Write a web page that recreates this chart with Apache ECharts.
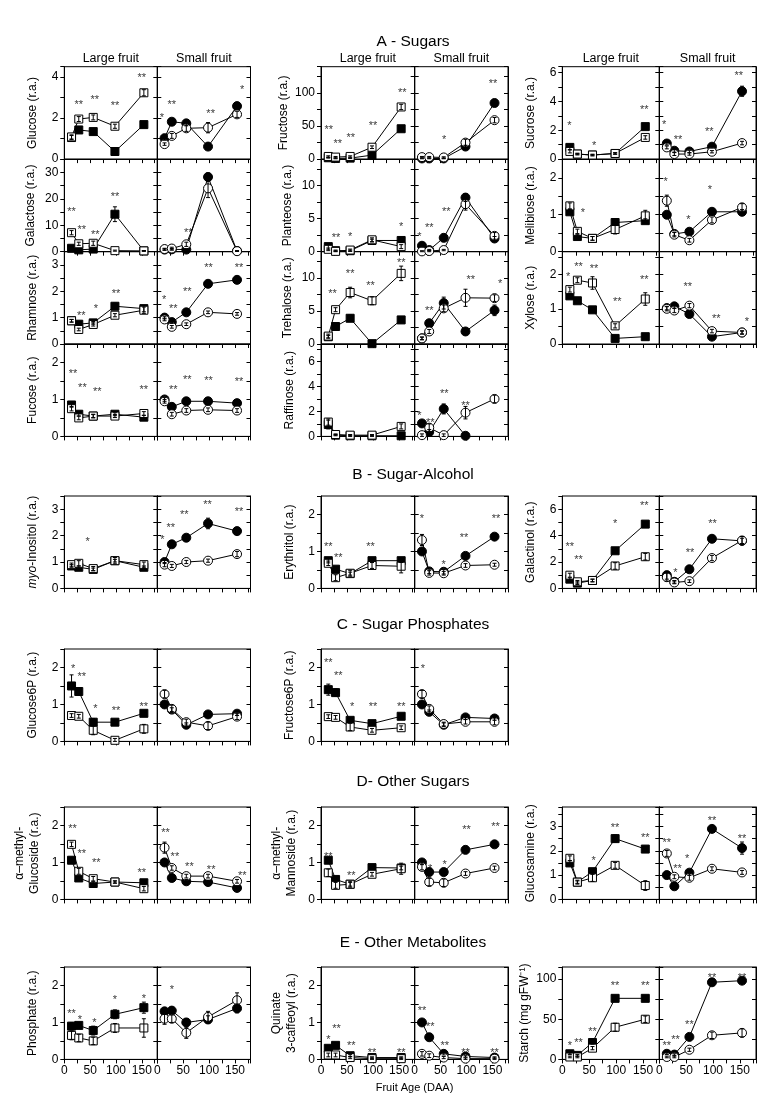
<!DOCTYPE html>
<html><head><meta charset="utf-8">
<script src="https://cdn.jsdelivr.net/npm/echarts/dist/echarts.min.js"></script>
<style>html,body{margin:0;padding:0;background:#fff}#c{width:769px;height:1100px}</style>
</head><body><div id="c"></div>
<script>
// ---------- DATA ----------
const DAA = [14, 28, 56, 98, 154];
const X_TICK_LABELS = [0, 50, 100, 150];
const FRUIT = ['Large fruit', 'Small fruit'];
const SECTIONS = ['A - Sugars', 'B - Sugar-Alcohol', 'C - Sugar Phosphates', 'D- Other Sugars', 'E - Other Metabolites'];
const X_TITLE = 'Fruit Age (DAA)';

// each: [filled series, open series]
const glucoseL = [[1.05, 1.42, 1.34, 0.37, 1.68], [1.08, 1.95, 2.03, 1.6, 3.23]];
const glucoseS = [[1.02, 1.82, 1.74, 0.61, 2.58], [0.73, 1.13, 1.5, 1.53, 2.18]];
const glucoseLErr = [[0.1, 0.1, 0.1, 0.06, 0.1], [0.1, 0.12, 0.12, 0.1, 0.15]];
const glucoseSErr = [[0.1, 0.12, 0.12, 0.1, 0.15], [0.06, 0.12, 0.15, 0.25, 0.15]];
const glucoseLStars = [[28, 2.78, '**'], [59, 3.02, '**'], [98, 2.73, '**'], [150, 4.11, '**']];
const glucoseSStars = [[9, 2.16, '*'], [28, 2.78, '**'], [103, 2.32, '**'], [164, 3.5, '*']];

const galactoseL = [[1.3, 0.7, 1.0, 14.2, 0.3], [7.2, 3.0, 3.2, 0.4, 0.3]];
const galactoseS = [[0.8, 0.9, 0.8, 28.3, 0.3], [1.0, 1.2, 2.8, 24.0, 0.2]];
const galactoseLErr = [[0.5, 0.3, 0.3, 2.8, 0.1], [0.8, 0.6, 0.8, 0.2, 0.1]];
const galactoseSErr = [[0.3, 0.3, 0.3, 1.5, 0.1], [0.3, 0.5, 0.8, 3.5, 0.1]];
const galactoseLStars = [[14, 16, '**'], [34, 9.3, '**'], [60, 7.4, '**'], [98, 21.9, '**']];
const galactoseSStars = [[60, 8.3, '**']];

const rhamnoseL = [[0.88, 0.75, 0.8, 1.43, 1.34], [0.88, 0.55, 0.74, 1.09, 1.28]];
const rhamnoseS = [[1.0, 0.83, 1.2, 2.28, 2.43], [0.93, 0.65, 0.75, 1.2, 1.14]];
const rhamnoseLErr = [[0.05, 0.05, 0.05, 0.12, 0.12], [0.05, 0.05, 0.06, 0.06, 0.12]];
const rhamnoseSErr = [[0.05, 0.05, 0.08, 0.1, 0.08], [0.05, 0.05, 0.05, 0.05, 0.05]];
const rhamnoseLStars = [[33, 1.18, '**'], [61, 1.43, '*'], [100, 2.02, '**']];
const rhamnoseSStars = [[13, 1.8, '*'], [31, 1.45, '**'], [58, 2.1, '**'], [99, 3.0, '**'], [158, 3.0, '**']];

const fucoseL = [[0.85, 0.6, 0.55, 0.6, 0.52], [0.75, 0.5, 0.55, 0.55, 0.62]];
const fucoseS = [[1.0, 0.8, 0.95, 0.95, 0.9], [0.95, 0.6, 0.7, 0.72, 0.7]];
const fucoseLErr = [[0.06, 0.05, 0.04, 0.04, 0.05], [0.06, 0.05, 0.05, 0.04, 0.05]];
const fucoseSErr = [[0.05, 0.05, 0.05, 0.05, 0.05], [0.05, 0.05, 0.05, 0.05, 0.05]];
const fucoseLStars = [[17, 1.76, '**'], [35, 1.4, '**'], [64, 1.29, '**'], [154, 1.33, '**']];
const fucoseSStars = [[31, 1.35, '**'], [58, 1.62, '**'], [99, 1.58, '**'], [158, 1.55, '**']];

const fructoseL = [[2, 1, 1.5, 6, 46], [4, 3, 4, 18, 79]];
const fructoseS = [[1, 1, 1, 19, 85], [3, 3, 2.5, 25, 59]];
const fructoseLErr = [[0.5, 0.5, 0.5, 1, 3], [1, 1, 1, 2, 4]];
const fructoseSErr = [[0.5, 0.5, 0.5, 2, 4], [1, 1, 1, 5, 4]];
const fructoseLStars = [[15, 49, '**'], [32, 27, '**'], [57, 36, '**'], [100, 54, '**'], [156, 104, '**']];
const fructoseSStars = [[57, 33, '*'], [151, 118, '**']];

const planteoseL = [[0.77, 0.15, 0.15, 1.7, 1.7], [0.36, 0.05, 0.25, 1.8, 0.77]];
const planteoseS = [[0.9, 0.25, 2.1, 8.2, 2.0], [0.05, 0.1, 0.25, 7.2, 2.4]];
const planteoseLErr = [[0.4, 0.1, 0.1, 0.2, 0.3], [0.2, 0.1, 0.15, 0.3, 0.3]];
const planteoseSErr = [[0.2, 0.1, 0.2, 0.6, 0.3], [0.1, 0.1, 0.1, 0.9, 0.5]];
const planteoseLStars = [[29, 2.55, '**'], [56, 2.65, '*'], [154, 4.2, '*']];
const planteoseSStars = [[9, 2.65, '*'], [28, 4.0, '**'], [61, 6.4, '**']];

const trehaloseL = [[1.1, 2.65, 3.9, 0.05, 3.65], [1.2, 5.2, 7.8, 6.55, 10.7]];
const trehaloseS = [[0.85, 3.15, 6.2, 1.9, 5.1], [0.85, 1.9, 5.4, 7.0, 6.95]];
const trehaloseLErr = [[0.2, 0.3, 0.5, 0.1, 0.3], [0.3, 0.3, 0.8, 0.6, 1.1]];
const trehaloseSErr = [[0.2, 0.3, 0.9, 0.2, 0.8], [0.2, 0.3, 0.5, 1.3, 0.5]];
const trehaloseLStars = [[22, 8.1, '**'], [56, 11, '**'], [95, 9.2, '**'], [154, 12.8, '**']];
const trehaloseSStars = [[28, 5.4, '**'], [108, 10.2, '**'], [165, 9.6, '*']];

const raffinoseL = [[0.95, 0.1, 0.05, 0.05, 0.05], [1.15, 0.15, 0.1, 0.1, 0.8]];
const raffinoseS = [[1.04, 0.35, 2.2, 0.05, null], [0.1, 0.7, 0.1, 1.9, 3.0]];
const raffinoseLErr = [[0.35, 0.05, 0.05, 0.05, 0.05], [0.25, 0.05, 0.05, 0.05, 0.2]];
const raffinoseSErr = [[0.15, 0.2, 0.4, 0.05, 0], [0.1, 0.3, 0.1, 0.5, 0.3]];
const raffinoseLStars = [];
const raffinoseSStars = [[9, 1.9, '*'], [30, 1.3, '**'], [57, 3.6, '**'], [98, 2.7, '**']];

const sucroseL = [[0.81, 0.35, 0.28, 0.39, 2.25], [0.53, 0.35, 0.28, 0.39, 1.5]];
const sucroseS = [[1.08, 0.58, 0.53, 0.86, 4.7], [0.81, 0.35, 0.35, 0.51, 1.11]];
const sucroseLErr = [[0.15, 0.05, 0.05, 0.05, 0.15], [0.1, 0.05, 0.05, 0.05, 0.12]];
const sucroseSErr = [[0.1, 0.1, 0.08, 0.1, 0.35], [0.1, 0.1, 0.08, 0.08, 0.12]];
const sucroseLStars = [[13, 2.5, '*'], [59, 1.09, '*'], [152, 3.6, '**']];
const sucroseSStars = [[9, 2.6, '*'], [35, 1.55, '**'], [93, 2.08, '**'], [148, 5.95, '**']];

const melibioseL = [[1.08, 0.41, 0.36, 0.79, 0.84], [1.24, 0.55, 0.36, 0.6, 0.97]];
const melibioseS = [[1.0, 0.48, 0.54, 1.08, 1.08], [1.38, 0.46, 0.31, 0.86, 1.2]];
const melibioseLErr = [[0.06, 0.05, 0.05, 0.05, 0.05], [0.08, 0.06, 0.05, 0.12, 0.15]];
const melibioseSErr = [[0.06, 0.05, 0.06, 0.08, 0.06], [0.15, 0.06, 0.05, 0.08, 0.1]];
const melibioseLStars = [[38, 1.13, '*']];
const melibioseSStars = [[12, 1.96, '*'], [54, 0.95, '*'], [94, 1.74, '*']];

const xyloseL = [[1.38, 1.24, 0.98, 0.16, 0.21], [1.56, 1.83, 1.75, 0.52, 1.29]];
const xyloseS = [[1.03, 1.08, 0.86, 0.21, 0.33], [1.01, 0.96, 1.1, 0.37, 0.33]];
const xyloseLErr = [[0.06, 0.05, 0.05, 0.05, 0.05], [0.07, 0.07, 0.18, 0.06, 0.18]];
const xyloseSErr = [[0.05, 0.05, 0.05, 0.05, 0.05], [0.06, 0.06, 0.06, 0.05, 0.04]];
const xyloseLStars = [[11, 2.0, '*'], [30, 2.3, '**'], [59, 2.23, '**'], [102, 1.3, '**'], [152, 1.91, '**']];
const xyloseSStars = [[53, 1.72, '**'], [106, 0.81, '**'], [163, 0.71, '*']];

const myoInositolL = [[0.85, 0.8, 0.72, 1.05, 0.8], [0.9, 0.95, 0.75, 1.05, 0.9]];
const myoInositolS = [[1.0, 1.67, 1.92, 2.46, 2.17], [0.9, 0.85, 1.0, 1.05, 1.3]];
const myoInositolLErr = [[0.05, 0.05, 0.05, 0.05, 0.05], [0.06, 0.1, 0.08, 0.12, 0.1]];
const myoInositolSErr = [[0.06, 0.08, 0.1, 0.2, 0.1], [0.08, 0.06, 0.06, 0.06, 0.1]];
const myoInositolLStars = [[45, 1.86, '*']];
const myoInositolSStars = [[10, 1.96, '*'], [26, 2.42, '**'], [52, 2.9, '**'], [97, 3.26, '**'], [158, 3.0, '**']];

const erythritolL = [[0.75, 0.52, 0.4, 0.75, 0.75], [0.68, 0.29, 0.41, 0.62, 0.6]];
const erythritolS = [[1.0, 0.46, 0.45, 0.88, 1.4], [1.31, 0.42, 0.41, 0.62, 0.64]];
const erythritolLErr = [[0.06, 0.05, 0.04, 0.05, 0.05], [0.06, 0.08, 0.08, 0.08, 0.18]];
const erythritolSErr = [[0.06, 0.06, 0.06, 0.06, 0.06], [0.15, 0.06, 0.05, 0.05, 0.04]];
const erythritolLStars = [[14, 1.2, '**'], [33, 0.9, '**'], [95, 1.2, '**']];
const erythritolSStars = [[14, 1.95, '*'], [56, 0.72, '*'], [95, 1.44, '**'], [157, 1.95, '**']];

const galactinolL = [[0.7, 0.4, 0.6, 2.85, 4.87], [1.0, 0.5, 0.6, 1.7, 2.4]];
const galactinolS = [[1.0, 0.5, 1.45, 3.76, 3.6], [0.85, 0.45, 0.55, 2.3, 3.63]];
const galactinolLErr = [[0.1, 0.1, 0.1, 0.2, 0.2], [0.15, 0.1, 0.1, 0.25, 0.25]];
const galactinolSErr = [[0.3, 0.1, 0.1, 0.15, 0.2], [0.3, 0.1, 0.1, 0.2, 0.3]];
const galactinolLStars = [[14, 3.36, '**'], [30, 2.4, '**'], [98, 5.08, '*'], [152, 6.5, '**']];
const galactinolSStars = [[30, 1.4, '*'], [57, 2.9, '**'], [99, 5.1, '**']];

const glucose6PL = [[1.5, 1.35, 0.52, 0.52, 0.76], [0.7, 0.68, 0.3, 0.03, 0.34]];
const glucose6PS = [[1.0, 0.86, 0.45, 0.73, 0.75], [1.28, 0.88, 0.52, 0.42, 0.67]];
const glucose6PLErr = [[0.3, 0.1, 0.1, 0.05, 0.05], [0.05, 0.05, 0.12, 0.05, 0.12]];
const glucose6PSErr = [[0.05, 0.05, 0.05, 0.05, 0.05], [0.1, 0.1, 0.08, 0.1, 0.08]];
const glucose6PLStars = [[17, 2.03, '*'], [34, 1.83, '**'], [60, 0.95, '*'], [100, 0.91, '**'], [154, 1.0, '**']];
const glucose6PSStars = [];

const fructose6PL = [[1.4, 1.32, 0.57, 0.48, 0.68], [0.67, 0.65, 0.39, 0.3, 0.37]];
const fructose6PS = [[1.0, 0.8, 0.45, 0.65, 0.62], [1.28, 0.88, 0.47, 0.53, 0.53]];
const fructose6PLErr = [[0.15, 0.1, 0.05, 0.05, 0.05], [0.05, 0.05, 0.1, 0.05, 0.05]];
const fructose6PSErr = [[0.05, 0.05, 0.05, 0.05, 0.05], [0.1, 0.08, 0.05, 0.06, 0.08]];
const fructose6PLStars = [[14, 2.19, '**'], [33, 1.84, '**'], [60, 1.0, '*'], [100, 1.0, '**'], [154, 1.0, '**']];
const fructose6PSStars = [[16, 2.03, '*']];

const mGlucosideL = [[1.06, 0.58, 0.43, 0.47, 0.45], [1.49, 0.76, 0.56, 0.47, 0.29]];
const mGlucosideS = [[1.0, 0.58, 0.49, 0.47, 0.31], [1.4, 0.85, 0.63, 0.63, 0.49]];
const mGlucosideLErr = [[0.08, 0.05, 0.05, 0.03, 0.05], [0.06, 0.08, 0.06, 0.03, 0.06]];
const mGlucosideSErr = [[0.06, 0.06, 0.05, 0.05, 0.05], [0.15, 0.06, 0.05, 0.05, 0.05]];
const mGlucosideLStars = [[16, 1.98, '**'], [34, 1.3, '**'], [62, 1.08, '**'], [150, 0.79, '**']];
const mGlucosideSStars = [[16, 1.89, '**'], [34, 1.24, '**'], [62, 0.95, '**'], [104, 0.88, '**'], [164, 0.72, '**']];

const mMannosideL = [[1.06, 0.54, 0.41, 0.86, 0.85], [0.72, 0.38, 0.41, 0.68, 0.83]];
const mMannosideS = [[1.0, 0.74, 0.74, 1.34, 1.49], [0.88, 0.47, 0.45, 0.7, 0.85]];
const mMannosideLErr = [[0.08, 0.05, 0.05, 0.05, 0.05], [0.1, 0.08, 0.08, 0.05, 0.15]];
const mMannosideSErr = [[0.06, 0.06, 0.06, 0.05, 0.05], [0.08, 0.1, 0.1, 0.05, 0.05]];
const mMannosideLStars = [[14, 1.22, '**'], [58, 0.72, '**']];
const mMannosideSStars = [[30, 0.9, '*'], [58, 1.0, '*'], [100, 1.95, '**'], [156, 2.05, '**']];

const glucosamineL = [[1.5, 0.71, 1.14, 2.5, 2.07], [1.69, 0.71, 0.89, 1.4, 0.57]];
const glucosamineS = [[1.0, 0.54, 1.1, 2.9, 2.11], [1.89, 0.93, 0.89, 1.26, 1.11]];
const glucosamineLErr = [[0.1, 0.05, 0.1, 0.15, 0.1], [0.1, 0.08, 0.15, 0.12, 0.2]];
const glucosamineSErr = [[0.05, 0.05, 0.1, 0.1, 0.25], [0.12, 0.08, 0.1, 0.08, 0.08]];
const glucosamineLStars = [[58, 1.71, '*'], [98, 3.07, '**'], [154, 2.65, '**']];
const glucosamineSStars = [[14, 2.43, '**'], [34, 1.36, '**'], [52, 1.79, '*'], [98, 3.36, '**'], [154, 2.6, '**']];

const phosphateL = [[0.9, 0.92, 0.78, 1.22, 1.4], [0.65, 0.58, 0.5, 0.85, 0.85]];
const phosphateS = [[1.3, 1.32, 1.0, 1.08, 1.38], [1.1, 1.1, 0.72, 1.15, 1.6]];
const phosphateLErr = [[0.1, 0.08, 0.12, 0.12, 0.15], [0.12, 0.1, 0.1, 0.12, 0.25]];
const phosphateSErr = [[0.08, 0.08, 0.1, 0.1, 0.12], [0.15, 0.1, 0.15, 0.15, 0.2]];
const phosphateLStars = [[14, 1.3, '**'], [30, 1.15, '*'], [58, 1.08, '*'], [98, 1.68, '*'], [154, 1.72, '*']];
const phosphateSStars = [[28, 1.95, '*']];

const quinateL = [[0.3, 0.38, 0.1, 0.05, 0.05], [0.12, 0.12, 0.05, 0.02, 0.02]];
const quinateS = [[1.0, 0.6, 0.15, 0.08, 0.05], [0.15, 0.1, 0.05, 0.02, 0.02]];
const quinateLErr = [[0.05, 0.05, 0.03, 0.02, 0.02], [0.05, 0.05, 0.03, 0.02, 0.02]];
const quinateSErr = [[0.05, 0.05, 0.03, 0.02, 0.02], [0.06, 0.05, 0.03, 0.02, 0.02]];
const quinateLStars = [[14, 0.6, '*'], [30, 0.9, '**'], [58, 0.45, '**'], [98, 0.25, '**'], [154, 0.25, '**']];
const quinateSStars = [[14, 1.4, '**'], [30, 0.95, '**'], [58, 0.45, '**'], [98, 0.25, '**'], [154, 0.25, '**']];

const starchL = [[7, 5, 21, 76, 76], [3, 3, 14, 40, 50]];
const starchS = [[7, 6, 28, 96, 98], [3, 3, 12, 30, 33]];
const starchLErr = [[1, 1, 2, 3, 3], [1, 1, 2, 5, 4]];
const starchSErr = [[1, 1, 2, 4, 3], [1, 1, 2, 4, 5]];
const starchLStars = [[14, 20, '*'], [30, 24, '**'], [56, 38, '**'], [98, 95, '**'], [154, 95, '**']];
const starchSStars = [[14, 20, '**'], [30, 28, '**'], [56, 46, '**'], [98, 105, '**'], [154, 105, '**']];

// ---------- PANEL CONFIG ----------
const panels = [
  {name: 'Glucose (r.a.)', col: 0, row: 'A0', max: 4.5, major: 2, minor: 1, L: glucoseL, S: glucoseS, LE: glucoseLErr, SE: glucoseSErr, LS: glucoseLStars, SS: glucoseSStars},
  {name: 'Galactose (r.a.)', col: 0, row: 'A1', max: 35, major: 10, minor: 5, L: galactoseL, S: galactoseS, LE: galactoseLErr, SE: galactoseSErr, LS: galactoseLStars, SS: galactoseSStars},
  {name: 'Rhamnose (r.a.)', col: 0, row: 'A2', max: 3.5, major: 1, minor: 0.5, L: rhamnoseL, S: rhamnoseS, LE: rhamnoseLErr, SE: rhamnoseSErr, LS: rhamnoseLStars, SS: rhamnoseSStars},
  {name: 'Fucose (r.a.)', col: 0, row: 'A3', max: 2.5, major: 1, minor: 0.5, L: fucoseL, S: fucoseS, LE: fucoseLErr, SE: fucoseSErr, LS: fucoseLStars, SS: fucoseSStars},
  {name: 'Fructose (r.a.)', col: 1, row: 'A0', max: 140, major: 50, minor: 25, L: fructoseL, S: fructoseS, LE: fructoseLErr, SE: fructoseSErr, LS: fructoseLStars, SS: fructoseSStars},
  {name: 'Planteose (r.a.)', col: 1, row: 'A1', max: 14, major: 5, minor: 2.5, L: planteoseL, S: planteoseS, LE: planteoseLErr, SE: planteoseSErr, LS: planteoseLStars, SS: planteoseSStars},
  {name: 'Trehalose (r.a.)', col: 1, row: 'A2', max: 14, major: 5, minor: 2.5, L: trehaloseL, S: trehaloseS, LE: trehaloseLErr, SE: trehaloseSErr, LS: trehaloseLStars, SS: trehaloseSStars},
  {name: 'Raffinose (r.a.)', col: 1, row: 'A3', max: 7.4, major: 2, minor: 1, L: raffinoseL, S: raffinoseS, LE: raffinoseLErr, SE: raffinoseSErr, LS: raffinoseLStars, SS: raffinoseSStars},
  {name: 'Sucrose (r.a.)', col: 2, row: 'A0', max: 6.4, major: 2, minor: 1, L: sucroseL, S: sucroseS, LE: sucroseLErr, SE: sucroseSErr, LS: sucroseLStars, SS: sucroseSStars},
  {name: 'Melibiose (r.a.)', col: 2, row: 'A1', max: 2.5, major: 1, minor: 0.5, L: melibioseL, S: melibioseS, LE: melibioseLErr, SE: melibioseSErr, LS: melibioseLStars, SS: melibioseSStars},
  {name: 'Xylose (r.a.)', col: 2, row: 'A2', max: 2.65, major: 1, minor: 0.5, L: xyloseL, S: xyloseS, LE: xyloseLErr, SE: xyloseSErr, LS: xyloseLStars, SS: xyloseSStars},
  {name: '{i|myo}-Inositol (r.a.)', col: 0, row: 'B', max: 3.5, major: 1, minor: 0.5, L: myoInositolL, S: myoInositolS, LE: myoInositolLErr, SE: myoInositolSErr, LS: myoInositolLStars, SS: myoInositolSStars},
  {name: 'Erythritol (r.a.)', col: 1, row: 'B', max: 2.5, major: 1, minor: 0.5, L: erythritolL, S: erythritolS, LE: erythritolLErr, SE: erythritolSErr, LS: erythritolLStars, SS: erythritolSStars},
  {name: 'Galactinol (r.a.)', col: 2, row: 'B', max: 7, major: 2, minor: 1, L: galactinolL, S: galactinolS, LE: galactinolLErr, SE: galactinolSErr, LS: galactinolLStars, SS: galactinolSStars},
  {name: 'Glucose6P (r.a.)', col: 0, row: 'C', max: 2.5, major: 1, minor: 0.5, L: glucose6PL, S: glucose6PS, LE: glucose6PLErr, SE: glucose6PSErr, LS: glucose6PLStars, SS: glucose6PSStars},
  {name: 'Fructose6P (r.a.)', col: 1, row: 'C', max: 2.5, major: 1, minor: 0.5, L: fructose6PL, S: fructose6PS, LE: fructose6PLErr, SE: fructose6PSErr, LS: fructose6PLStars, SS: fructose6PSStars},
  {name: 'α–methyl-\nGlucoside (r.a.)', col: 0, row: 'D', max: 2.5, major: 1, minor: 0.5, L: mGlucosideL, S: mGlucosideS, LE: mGlucosideLErr, SE: mGlucosideSErr, LS: mGlucosideLStars, SS: mGlucosideSStars},
  {name: 'α–methyl-\nMannoside (r.a.)', col: 1, row: 'D', max: 2.5, major: 1, minor: 0.5, L: mMannosideL, S: mMannosideS, LE: mMannosideLErr, SE: mMannosideSErr, LS: mMannosideLStars, SS: mMannosideSStars},
  {name: 'Glucosamine (r.a.)', col: 2, row: 'D', max: 3.8, major: 1, minor: 0.5, L: glucosamineL, S: glucosamineS, LE: glucosamineLErr, SE: glucosamineSErr, LS: glucosamineLStars, SS: glucosamineSStars},
  {name: 'Phosphate (r.a.)', col: 0, row: 'E', max: 2.5, major: 1, minor: 0.5, L: phosphateL, S: phosphateS, LE: phosphateLErr, SE: phosphateSErr, LS: phosphateLStars, SS: phosphateSStars},
  {name: 'Quinate\n3-caffeoyl (r.a.)', col: 1, row: 'E', max: 2.5, major: 1, minor: 0.5, L: quinateL, S: quinateS, LE: quinateLErr, SE: quinateSErr, LS: quinateLStars, SS: quinateSStars},
  {name: 'Starch (mg gFW⁻¹)', col: 2, row: 'E', max: 115, major: 50, minor: 25, L: starchL, S: starchS, LE: starchLErr, SE: starchSErr, LS: starchLStars, SS: starchSStars}
];

// ---------- LAYOUT ----------
const COLS = [[64.3, 157.3, 250.5], [321, 414.7, 508], [562.3, 659.3, 756]];
const ROWS = {A0: 66.7, A1: 159.3, A2: 251.6, A3: 344, B: 496, C: 649, D: 807, E: 967};
const PH = 92.4;
const FONT = '"Liberation Sans", Arial, Helvetica, sans-serif';
const BLACK = '#000';

const grids = [], xAxes = [], yAxes = [], series = [];

function errorSeries(g, yi, rows) {
  return {
    type: 'custom', xAxisIndex: g, yAxisIndex: yi, z: 4, silent: true, animation: false,
    data: rows,
    encode: {x: 0, y: 1},
    renderItem: function (params, api) {
      const x = api.value(0), v = api.value(1), e = api.value(2);
      if (!(e > 0)) return null;
      const t = api.coord([x, v + e]), b = api.coord([x, Math.max(0, v - e)]);
      const st = {stroke: BLACK, lineWidth: 1};
      const w = 2;
      return {type: 'group', children: [
        {type: 'line', shape: {x1: t[0], y1: t[1], x2: b[0], y2: b[1]}, style: st},
        {type: 'line', shape: {x1: t[0] - w, y1: t[1], x2: t[0] + w, y2: t[1]}, style: st},
        {type: 'line', shape: {x1: b[0] - w, y1: b[1], x2: b[0] + w, y2: b[1]}, style: st}
      ]};
    }
  };
}

panels.forEach(p => {
  [0, 1].forEach(side => {
    const g = grids.length;
    const cx = COLS[p.col];
    const left = cx[side], right = cx[side + 1];
    const top = ROWS[p.row];
    grids.push({left: left, top: top, width: right - left, height: PH, show: true, borderColor: BLACK, borderWidth: 1, backgroundColor: 'transparent'});
    const isBottom = p.row === 'E';
    xAxes.push({
      gridIndex: g, type: 'value', min: 0, max: 180, interval: 25,
      axisLine: {show: true, lineStyle: {color: BLACK, width: 1}},
      axisTick: {show: true, inside: false, length: 4, lineStyle: {color: BLACK, width: 1}},
      axisLabel: {show: isBottom, margin: 5, fontSize: 12, color: BLACK, fontFamily: FONT,
        formatter: v => X_TICK_LABELS.indexOf(v) >= 0 ? String(v) : ''},
      splitLine: {show: false}
    });
    const lab = v => {
      const r = v / p.major;
      return (Math.abs(r - Math.round(r)) < 1e-6 && v < p.max - 1e-9) ? String(Math.round(v * 1000) / 1000) : '';
    };
    const twoLine = p.name.indexOf('\n') >= 0;
    const gap = twoLine ? 22 : (p.max >= 100 ? 29 : (p.max >= 10 ? 26 : 24));
    yAxes.push({
      gridIndex: g, type: 'value', position: 'left', min: 0, max: p.max, interval: p.minor,
      axisLine: {show: true, lineStyle: {color: BLACK, width: 1}},
      axisTick: {show: true, inside: side === 1, length: 4, lineStyle: {color: BLACK, width: 1}},
      axisLabel: {show: side === 0, margin: 6, fontSize: 12, color: BLACK, fontFamily: FONT, formatter: lab},
      splitLine: {show: false},
      name: side === 0 ? p.name : '', nameLocation: 'middle', nameGap: gap, nameRotate: 90,
      nameTextStyle: {fontSize: 12, color: BLACK, fontFamily: FONT, lineHeight: 15,
        rich: {i: {fontStyle: 'italic', fontSize: 12, color: BLACK, fontFamily: FONT}}}
    });
    yAxes.push({
      gridIndex: g, type: 'value', position: 'right', min: 0, max: p.max, interval: p.minor,
      axisLine: {show: true, lineStyle: {color: BLACK, width: 1}},
      axisTick: {show: true, inside: true, length: 4, lineStyle: {color: BLACK, width: 1}},
      axisLabel: {show: false}, splitLine: {show: false}
    });
    const yi = 2 * g;
    const vals = side === 0 ? p.L : p.S;
    const errs = side === 0 ? p.LE : p.SE;
    const stars = side === 0 ? p.LS : p.SS;
    const sym = side === 0 ? 'rect' : 'circle';
    const size = side === 0 ? 8 : 9;
    const toLine = arr => DAA.map((x, i) => arr[i] == null ? [x, '-'] : [x, arr[i]]);
    series.push({type: 'line', xAxisIndex: g, yAxisIndex: yi, data: toLine(vals[0]), symbol: sym, symbolSize: size,
      showSymbol: true, itemStyle: {color: BLACK, borderColor: BLACK, borderWidth: 1}, lineStyle: {color: BLACK, width: 1},
      z: 2, silent: true, animation: false, clip: false});
    series.push({type: 'line', xAxisIndex: g, yAxisIndex: yi, data: toLine(vals[1]), symbol: sym, symbolSize: size,
      showSymbol: true, itemStyle: {color: '#fff', borderColor: BLACK, borderWidth: 1}, lineStyle: {color: BLACK, width: 1},
      z: 3, silent: true, animation: false, clip: false});
    const errRows = [];
    [0, 1].forEach(k => DAA.forEach((x, i) => {
      if (vals[k][i] != null && errs[k][i] > 0) errRows.push([x, vals[k][i], errs[k][i]]);
    }));
    series.push(errorSeries(g, yi, errRows));
    series.push({type: 'scatter', xAxisIndex: g, yAxisIndex: yi, symbolSize: 1, itemStyle: {color: 'rgba(0,0,0,0)'},
      data: stars.map(s => ({value: [s[0], s[1]], name: s[2]})), z: 5, silent: true, animation: false,
      label: {show: true, position: 'inside', formatter: '{b}', fontSize: 11, color: BLACK, fontFamily: FONT, offset: [0, 3]}});
  });
});

// ---------- TEXT ----------
const graphics = [];
const txt = (t, x, y, size) => ({type: 'text', x: x, y: y, silent: true,
  style: {text: t, fill: BLACK, font: size + 'px ' + FONT, align: 'center', verticalAlign: 'middle', textAlign: 'center', textVerticalAlign: 'middle'}});
const titleY = [42, 475, 625, 782, 943];
SECTIONS.forEach((s, i) => graphics.push(txt(s, 413, titleY[i], 15.5)));
COLS.forEach(c => {
  graphics.push(txt(FRUIT[0], (c[0] + c[1]) / 2, 59, 12.5));
  graphics.push(txt(FRUIT[1], (c[1] + c[2]) / 2, 59, 12.5));
});
graphics.push(txt(X_TITLE, (COLS[1][0] + COLS[1][2]) / 2, 1088, 11));

const chart = echarts.init(document.getElementById('c'), null, {renderer: 'canvas'});
chart.setOption({
  animation: false,
  backgroundColor: '#fff',
  grid: grids, xAxis: xAxes, yAxis: yAxes, series: series,
  graphic: graphics
});
</script>
</body></html>
